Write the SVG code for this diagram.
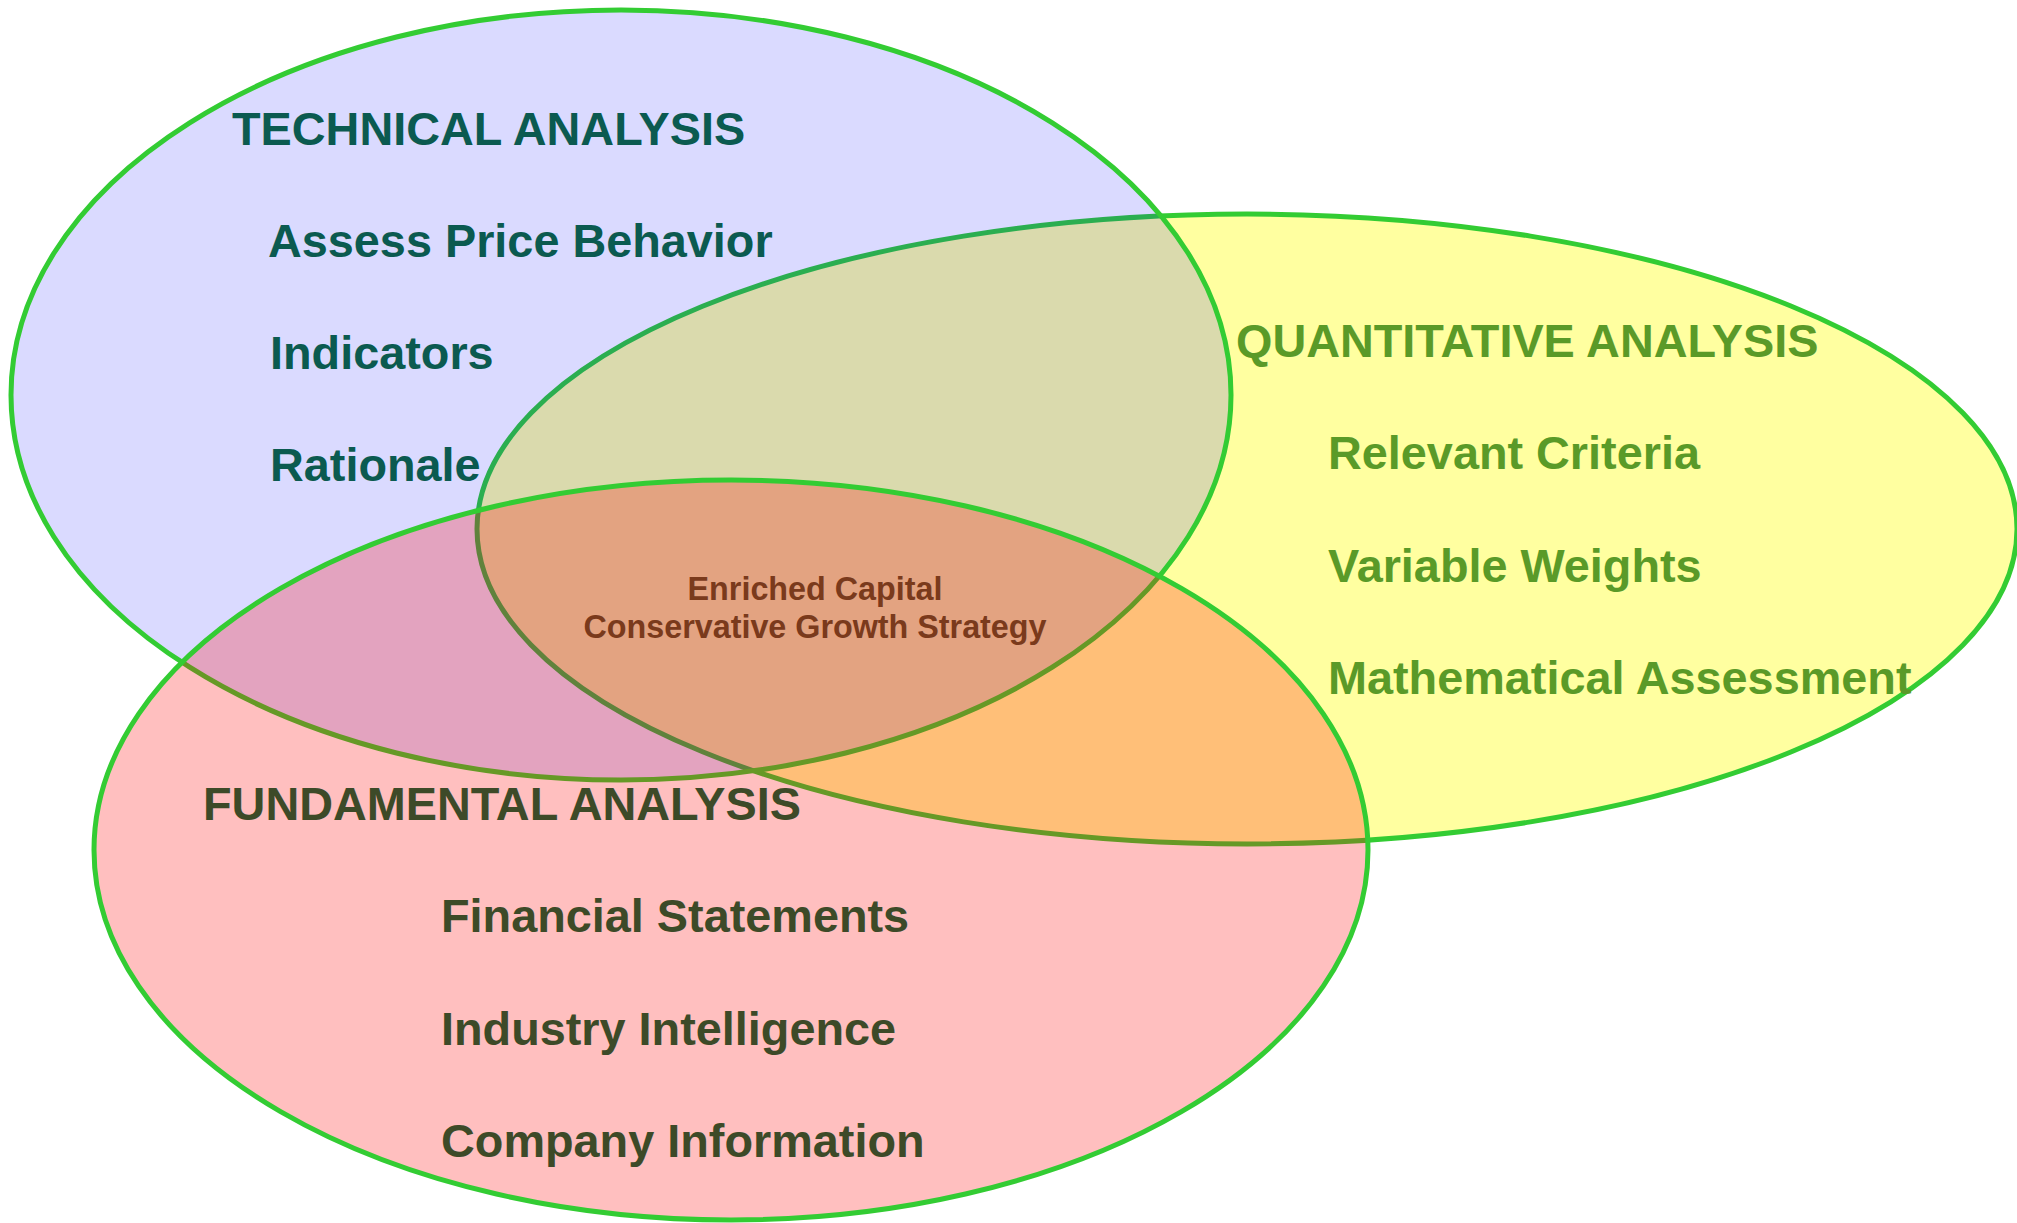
<svg xmlns="http://www.w3.org/2000/svg" width="2017" height="1223" viewBox="0 0 2017 1223">
<style>
.set{stroke:#33cc33;stroke-width:5}
.lbl{font-family:"Liberation Sans",Arial,sans-serif;font-weight:bold;font-size:46.8px}
.tech{fill:#0b5a50}
.quant{fill:#5a9a28}
.fund{fill:#3d4a28}
.ctr{font-family:"Liberation Sans",Arial,sans-serif;font-weight:bold;font-size:32.3px;fill:#7a3a1c;text-anchor:middle}
</style>
<rect width="2017" height="1223" fill="#ffffff"/>
<g id="quantitative">
<ellipse class="set" cx="1247" cy="529" rx="770" ry="315" fill="#ffffa0"/>
</g>
<g id="technical">
<ellipse class="set" cx="621" cy="395" rx="610" ry="385" fill="#0000ff" fill-opacity="0.145"/>
</g>
<g id="fundamental">
<ellipse class="set" cx="731" cy="850" rx="637" ry="370" fill="#ff0000" fill-opacity="0.25"/>
</g>
<g id="connectors"></g>
<g id="technical-labels">
<text class="lbl tech" x="232" y="145">TECHNICAL ANALYSIS</text>
<text class="lbl tech" x="268" y="257">Assess Price Behavior</text>
<text class="lbl tech" x="270" y="369">Indicators</text>
<text class="lbl tech" x="270" y="481">Rationale</text>
</g>
<g id="quantitative-labels">
<text class="lbl quant" x="1236" y="357">QUANTITATIVE ANALYSIS</text>
<text class="lbl quant" x="1328" y="469">Relevant Criteria</text>
<text class="lbl quant" x="1328" y="582">Variable Weights</text>
<text class="lbl quant" x="1328" y="694">Mathematical Assessment</text>
</g>
<g id="fundamental-labels">
<text class="lbl fund" x="203" y="820">FUNDAMENTAL ANALYSIS</text>
<text class="lbl fund" x="441" y="932">Financial Statements</text>
<text class="lbl fund" x="441" y="1045">Industry Intelligence</text>
<text class="lbl fund" x="441" y="1157">Company Information</text>
</g>
<g id="center">
<text class="ctr" x="815" y="600">Enriched Capital</text>
<text class="ctr" x="815" y="638">Conservative Growth Strategy</text>
</g>
</svg>
